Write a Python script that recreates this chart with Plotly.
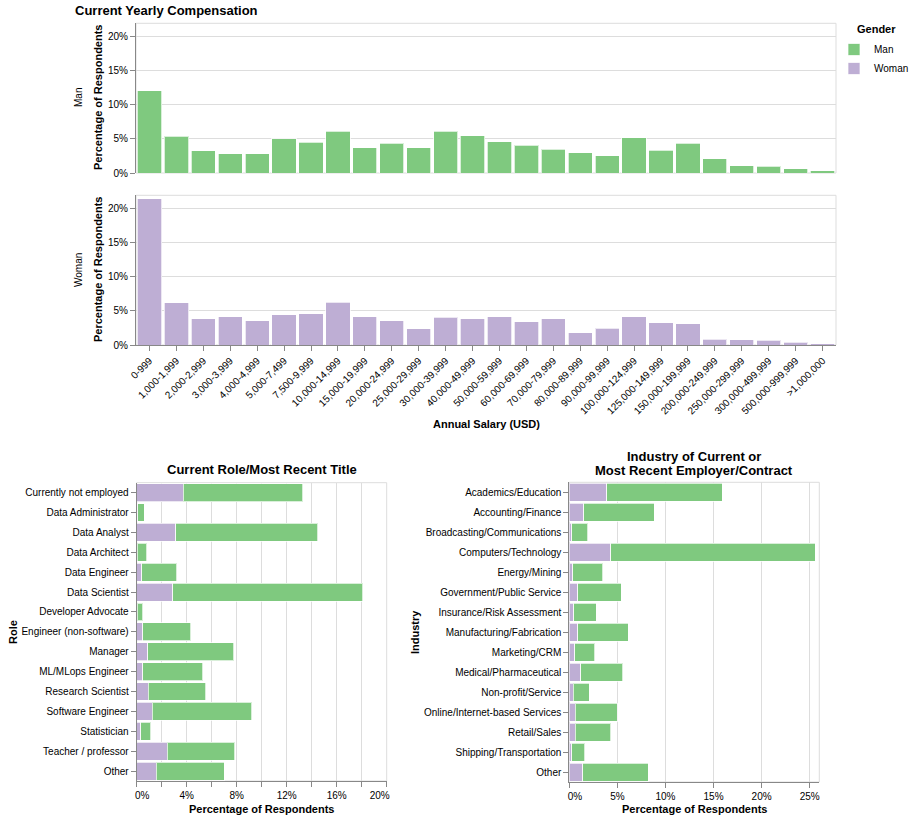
import plotly.graph_objects as go

# ---------------- data ----------------
salary_bins = ["0-999", "1,000-1,999", "2,000-2,999", "3,000-3,999", "4,000-4,999",
               "5,000-7,499", "7,500-9,999", "10,000-14,999", "15,000-19,999",
               "20,000-24,999", "25,000-29,999", "30,000-39,999", "40,000-49,999",
               "50,000-59,999", "60,000-69,999", "70,000-79,999", "80,000-89,999",
               "90,000-99,999", "100,000-124,999", "125,000-149,999", "150,000-199,999",
               "200,000-249,999", "250,000-299,999", "300,000-499,999",
               "500,000-999,999", ">1,000,000"]
man_salary = [12.1, 5.4, 3.3, 2.8, 2.8, 5.0, 4.55, 6.1, 3.7, 4.35, 3.7, 6.1, 5.45,
              4.6, 4.07, 3.5, 2.94, 2.5, 5.15, 3.33, 4.37, 2.1, 1.03, 1.0, 0.64, 0.3]
woman_salary = [21.5, 6.2, 3.83, 4.18, 3.54, 4.48, 4.57, 6.3, 4.13, 3.54, 2.36, 4.08,
                3.83, 4.13, 3.44, 3.83, 1.77, 2.46, 4.13, 3.29, 3.1, 0.84, 0.74, 0.69,
                0.39, 0.15]

roles = ["Currently not employed", "Data Administrator", "Data Analyst", "Data Architect",
         "Data Engineer", "Data Scientist", "Developer Advocate", "Engineer (non-software)",
         "Manager", "ML/MLops Engineer", "Research Scientist", "Software Engineer",
         "Statistician", "Teacher / professor", "Other"]
role_woman = [3.73, 0.08, 3.12, 0.05, 0.4, 2.88, 0.05, 0.48, 0.88, 0.5, 0.93, 1.25,
              0.32, 2.45, 1.55]
role_man = [9.55, 0.51, 11.38, 0.75, 2.8, 15.2, 0.45, 3.84, 6.88, 4.78, 4.59, 7.95,
            0.8, 5.39, 5.44]

industries = ["Academics/Education", "Accounting/Finance", "Broadcasting/Communications",
              "Computers/Technology", "Energy/Mining", "Government/Public Service",
              "Insurance/Risk Assessment", "Manufacturing/Fabrication", "Marketing/CRM",
              "Medical/Pharmaceutical", "Non-profit/Service", "Online/Internet-based Services",
              "Retail/Sales", "Shipping/Transportation", "Other"]
industry_woman = [3.89, 1.49, 0.24, 4.3, 0.35, 0.9, 0.45, 0.87, 0.56, 1.18, 0.42, 0.63,
                  0.63, 0.24, 1.42]
industry_man = [12.01, 7.36, 1.7, 21.26, 3.15, 4.52, 2.33, 5.28, 2.11, 4.38, 1.63, 4.37,
                3.67, 1.36, 6.77]

top_ticks = [0, 5, 10, 15, 20]
top_ticktext = ["0%", "5%", "10%", "15%", "20%"]
role_ticks = [0, 2, 4, 6, 8, 10, 12, 14, 16, 18, 20]
role_ticktext = ["\u00a0\u00a0\u00a0\u00a00%", "", "4%", "", "8%", "", "12%", "", "16%", "",
                 "20%\u00a0\u00a0\u00a0\u00a0\u00a0"]
ind_ticks = [0, 5, 10, 15, 20, 25]
ind_ticktext = ["\u00a0\u00a0\u00a0\u00a00%", "5%", "10%", "15%", "20%", "25%"]

# ---------------- style ----------------
GREEN = "#7fc97f"
PURPLE = "#beaed4"
FONT = "Liberation Sans, Arial, Helvetica, sans-serif"
W, H = 911, 820

def px_x(a, b):
    return [a / W, b / W]

def px_y(top, bottom):
    return [1 - bottom / H, 1 - top / H]

dom_top_x = px_x(136, 836)
dom_man_y = px_y(23.3, 173)
dom_wom_y = px_y(195.3, 345)
dom_role_x = px_x(136.7, 386.7)
dom_role_y = px_y(482.7, 781)
dom_ind_x = px_x(569.3, 819.3)
dom_ind_y = px_y(482.3, 782)

line = dict(color="rgba(255,255,255,0.7)", width=1)

fig = go.Figure()

# top panels
fig.add_trace(go.Bar(x=salary_bins, y=man_salary, marker=dict(color=GREEN, line=line),
                     name="Man", legendgroup="Man", legendrank=1, showlegend=True,
                     xaxis="x", yaxis="y"))
fig.add_trace(go.Bar(x=salary_bins, y=woman_salary, marker=dict(color=PURPLE, line=line),
                     name="Woman", legendgroup="Woman", legendrank=2, showlegend=True,
                     xaxis="x2", yaxis="y2"))
# role stacked
fig.add_trace(go.Bar(y=roles, x=role_woman, orientation="h", marker=dict(color=PURPLE, line=line),
                     name="Woman", legendgroup="Woman", showlegend=False, xaxis="x3", yaxis="y3"))
fig.add_trace(go.Bar(y=roles, x=role_man, orientation="h", marker=dict(color=GREEN, line=line),
                     name="Man", legendgroup="Man", showlegend=False, xaxis="x3", yaxis="y3"))
# industry stacked
fig.add_trace(go.Bar(y=industries, x=industry_woman, orientation="h", marker=dict(color=PURPLE, line=line),
                     name="Woman", legendgroup="Woman", showlegend=False, xaxis="x4", yaxis="y4"))
fig.add_trace(go.Bar(y=industries, x=industry_man, orientation="h", marker=dict(color=GREEN, line=line),
                     name="Man", legendgroup="Man", showlegend=False, xaxis="x4", yaxis="y4"))

tickfont = dict(family=FONT, size=10, color="#000")
AX = "#888"
GRID = "#ddd"

common_y_top = dict(range=[0, 22], tickvals=top_ticks, ticktext=top_ticktext,
                    showgrid=True, gridcolor=GRID, gridwidth=1, zeroline=False,
                    showline=True, linecolor=AX, linewidth=1, ticks="outside",
                    ticklen=5, tickcolor=AX, tickfont=tickfont, fixedrange=True,
                    automargin=False)

fig.update_layout(
    width=W, height=H, margin=dict(l=0, r=0, t=0, b=0, autoexpand=False),
    paper_bgcolor="white", plot_bgcolor="white",
    barmode="stack", bargap=0.1,
    font=dict(family=FONT, size=10, color="#000"),
    xaxis=dict(domain=dom_top_x, anchor="y", type="category", categoryorder="array",
               categoryarray=salary_bins, showticklabels=False, showgrid=False,
               zeroline=False, showline=False, ticks="", automargin=False),
    yaxis=dict(domain=dom_man_y, anchor="x", **common_y_top),
    xaxis2=dict(domain=dom_top_x, anchor="y2", type="category", categoryorder="array",
                categoryarray=salary_bins, tickangle=-45, showgrid=False, zeroline=False,
                showline=True, linecolor=AX, ticks="outside", ticklen=5, tickcolor=AX,
                tickfont=tickfont, automargin=False),
    yaxis2=dict(domain=dom_wom_y, anchor="x2", **common_y_top),
    xaxis3=dict(domain=dom_role_x, anchor="y3", range=[0, 20], tickvals=role_ticks,
                ticktext=role_ticktext, showgrid=True, gridcolor=GRID, zeroline=False,
                showline=True, linecolor=AX, ticks="outside", ticklen=5, tickcolor=AX,
                tickfont=tickfont, automargin=False),
    yaxis3=dict(domain=dom_role_y, anchor="x3", type="category", categoryorder="array",
                categoryarray=roles, autorange="reversed", showgrid=False, zeroline=False,
                showline=True, linecolor=AX, ticks="outside", ticklen=5, tickcolor=AX,
                tickfont=tickfont, automargin=False),
    xaxis4=dict(domain=dom_ind_x, anchor="y4", range=[0, 26], tickvals=ind_ticks,
                ticktext=ind_ticktext, showgrid=True, gridcolor=GRID, zeroline=False,
                showline=True, linecolor=AX, ticks="outside", ticklen=5, tickcolor=AX,
                tickfont=tickfont, automargin=False),
    yaxis4=dict(domain=dom_ind_y, anchor="x4", type="category", categoryorder="array",
                categoryarray=industries, autorange="reversed", showgrid=False, zeroline=False,
                showline=True, linecolor=AX, ticks="outside", ticklen=5, tickcolor=AX,
                tickfont=tickfont, automargin=False),
    legend=dict(x=834 / W, y=1 - 35 / H, xanchor="left", yanchor="top",
                font=dict(family=FONT, size=10), bgcolor="rgba(0,0,0,0)",
                traceorder="normal", tracegroupgap=0),
)

# frames (view borders)
shapes = []
for dx, dy in [(dom_top_x, dom_man_y), (dom_top_x, dom_wom_y),
               (dom_role_x, dom_role_y), (dom_ind_x, dom_ind_y)]:
    shapes.append(dict(type="rect", xref="paper", yref="paper", x0=dx[0], x1=dx[1],
                       y0=dy[0], y1=dy[1], line=dict(color=GRID, width=1), layer="below"))
fig.update_layout(shapes=shapes)

ann = []
def A(text, x, y, size=11, bold=True, angle=0, xanchor="center", yanchor="middle"):
    ann.append(dict(text=("<b>%s</b>" % text) if bold else text, x=x / W, y=1 - y / H,
                    xref="paper", yref="paper", showarrow=False, textangle=angle,
                    xanchor=xanchor, yanchor=yanchor,
                    font=dict(family=FONT, size=size, color="#000")))

A("Current Yearly Compensation", 73, 10, size=13, xanchor="left")
A("Gender", 855, 29, size=11, xanchor="left")
A("Man", 78, 98, size=10, bold=False, angle=-90)
A("Woman", 78, 270, size=10, bold=False, angle=-90)
A("Percentage of Respondents", 98, 98, angle=-90)
A("Percentage of Respondents", 98, 270, angle=-90)
A("Annual Salary (USD)", 486, 424)
A("Current Role/Most Recent Title", 261.7, 470, size=13)
A("Industry of Current or", 694, 456, size=13)
A("Most Recent Employer/Contract", 694, 471, size=13)
A("Role", 13, 632, angle=-90)
A("Industry", 415, 632, angle=-90)
A("Percentage of Respondents", 261.7, 809)
A("Percentage of Respondents", 694.3, 809)
fig.update_layout(annotations=ann)

fig.write_html("out.html")
